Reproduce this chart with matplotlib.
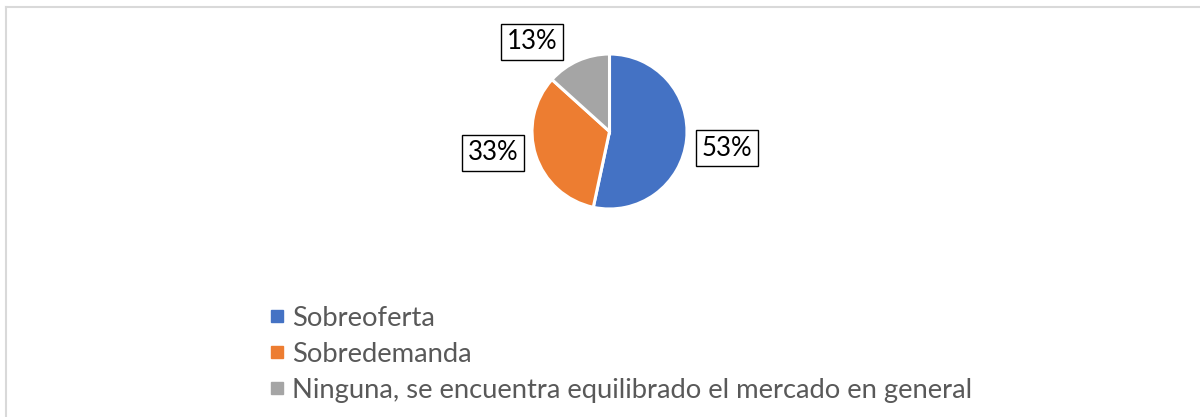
import matplotlib
matplotlib.use("Agg")
import matplotlib.pyplot as plt
from matplotlib.lines import Line2D

categories = ["Sobreoferta", "Sobredemanda",
              "Ninguna, se encuentra equilibrado el mercado en general"]
values = [53.3, 33.3, 13.3]
pct_labels = ["53%", "33%", "13%"]
colors = ["#4472C4", "#ED7D31", "#A5A5A5"]

plt.rcParams['font.family'] = ['Lato', 'DejaVu Sans']

W, H = 1200, 417
fig = plt.figure(figsize=(W / 100, H / 100), dpi=100)

# chart border (top and left visible)
fig.add_artist(Line2D([6 / W, 1.0], [1 - 7 / H, 1 - 7 / H], color="#D9D9D9", lw=1.5))
fig.add_artist(Line2D([6 / W, 6 / W], [0, 1 - 7 / H], color="#D9D9D9", lw=1.5))

cx, cy, half = 609.5, 131.5, 155.0
ax = fig.add_axes([(cx - half) / W, (H - cy - half) / H, 2 * half / W, 2 * half / H])
wedges, _ = ax.pie(values, colors=colors, startangle=90, counterclock=False,
                   radius=1.0, wedgeprops=dict(edgecolor="white", linewidth=2.2))
ax.set_xlim(-2, 2)
ax.set_ylim(-2, 2)
ax.set_aspect('equal')
ax.axis('off')

label_pos = [(1.516, -0.213), (-1.503, -0.277), (-1.0, 1.155)]
for (x, y), t in zip(label_pos, pct_labels):
    ax.text(x, y, t, ha='center', va='center', fontsize=18.5, color="black",
            clip_on=False,
            bbox=dict(boxstyle='square,pad=0.22', facecolor='white',
                      edgecolor='black', linewidth=1.0))

handles = [Line2D([], [], marker='s', linestyle='none', markersize=8,
                  markerfacecolor=c, markeredgecolor=c) for c in colors]
leg = fig.legend(handles, categories, loc='upper left',
                 bbox_to_anchor=(270 / W, 1 - 306 / H), frameon=False,
                 fontsize=19.7, labelcolor="#595959", handlelength=0.5,
                 handletextpad=0.32, labelspacing=0.40, borderpad=0,
                 borderaxespad=0)

fig.savefig("out.png", dpi=100, facecolor="white")
